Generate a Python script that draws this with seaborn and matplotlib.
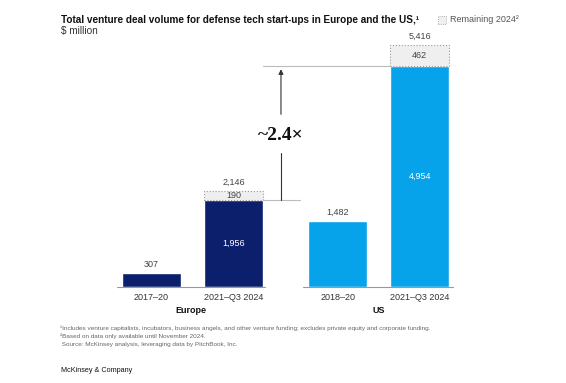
import pandas as pd
import numpy as np
import matplotlib.pyplot as plt
import seaborn as sns
from matplotlib.patches import Rectangle

# data
regions = ['Europe', 'Europe', 'US', 'US']
periods = ['2017–20', '2021–Q3 2024', '2018–20', '2021–Q3 2024']
positions = [0, 1, 2.27, 3.27]
volume = [307, 1956, 1482, 4954]
remaining = [0, 190, 0, 462]
totals = [307, 2146, 1482, 5416]

navy = '#0b1f6c'
blue = '#06a2ea'

df = pd.DataFrame({'region': regions, 'period': periods, 'pos': positions, 'volume': volume})

sns.set_style('white')
plt.rcParams['font.family'] = ['Liberation Sans', 'DejaVu Sans']

fig = plt.figure(figsize=(5.66, 3.83), dpi=100)
ax = fig.add_axes([0, 0, 1, 1])

sns.barplot(data=df, x='pos', y='volume', hue='region', palette={'Europe': navy, 'US': blue},
            native_scale=True, dodge=False, width=0.72, errorbar=None, legend=False,
            saturation=1, ax=ax)

# remaining 2024 part, stacked on top (only where there is one)
rem = df.assign(remaining=remaining)
rem = rem[rem['remaining'] > 0]
ax.bar(rem['pos'], rem['remaining'], bottom=rem['volume'], width=0.72, color='#efefef',
       edgecolor='#999999', linestyle=':', linewidth=0.8)

# baselines per group
ax.plot([-0.42, 1.384], [0, 0], color='#999999', lw=0.8)
ax.plot([1.848, 3.677], [0, 0], color='#999999', lw=0.8)

for i in range(4):
    x = positions[i]
    ax.text(x, totals[i] + 90, f'{totals[i]:,}', ha='center', va='bottom', fontsize=6.5, color='#444444')
    if remaining[i] > 0:
        ax.text(x, volume[i] + remaining[i] / 2, f'{remaining[i]:,}', ha='center', va='center',
                fontsize=6.5, color='#444444')
        ax.text(x, volume[i] / 2, f'{volume[i]:,}', ha='center', va='center', fontsize=6.5, color='white')
    ax.text(x, -230, periods[i], ha='center', va='center', fontsize=6.5, color='#333333')

ax.text(0.48, -520, 'Europe', ha='center', va='center', fontsize=6.5, fontweight='bold', color='#111111')
ax.text(2.77, -520, 'US', ha='center', va='center', fontsize=6.5, fontweight='bold', color='#111111')

# ~2.4x comparison
ax.plot([1.36, 1.81], [volume[1], volume[1]], color='#bbbbbb', lw=0.8)
ax.plot([1.36, 2.91], [volume[3], volume[3]], color='#bbbbbb', lw=0.8)
ax.plot([1.579, 1.579], [volume[1], 3000], color='#333333', lw=0.8)
ax.annotate('', xy=(1.579, volume[3] - 20), xytext=(1.579, 3800),
            arrowprops=dict(arrowstyle='-|>', color='#333333', lw=0.8, mutation_scale=7))
ax.text(1.579, 3400, '~2.4×', ha='center', va='center', fontsize=14, fontweight='bold',
        family=['Liberation Serif', 'DejaVu Serif'], color='#111111')

ax.set_xlim(-151.5 / 82, (566 - 151.5) / 82)
ax.set_ylim(-96 * 22.37, 287 * 22.37)
ax.axis('off')

# title and notes
fig.text(61 / 566, 1 - 20 / 383, 'Total venture deal volume for defense tech start-ups in Europe and the US,¹',
         fontsize=7.2, fontweight='bold', va='center', color='#111111')
fig.text(61 / 566, 1 - 31 / 383, '$ million', fontsize=7.2, va='center', color='#333333')

fig.patches.append(Rectangle((438 / 566, 1 - 24 / 383), 8 / 566, 8 / 383, transform=fig.transFigure,
                             facecolor='#efefef', edgecolor='#999999', linestyle=':', lw=0.6))
fig.text(450 / 566, 1 - 20 / 383, 'Remaining 2024²', fontsize=6.5, va='center', color='#555555')

notes = ['¹Includes venture capitalists, incubators, business angels, and other venture funding; excludes private equity and corporate funding.',
         '²Based on data only available until November 2024.',
         ' Source: McKinsey analysis, leveraging data by PitchBook, Inc.']
for j, note in enumerate(notes):
    fig.text(60 / 566, 1 - (328 + j * 8.3) / 383, note, fontsize=4.6, va='center', color='#666666')

fig.text(61 / 566, 1 - 370 / 383, 'McKinsey & Company', fontsize=5.2, va='center', color='#111111')

plt.savefig('out.png', dpi=100)
